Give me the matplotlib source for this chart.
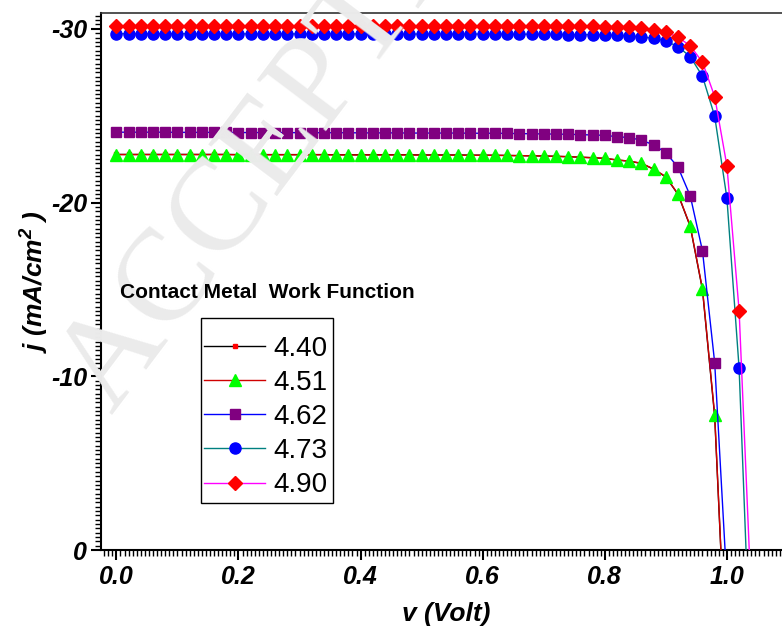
import matplotlib
matplotlib.use("Agg")
import matplotlib.pyplot as plt
from matplotlib.ticker import FixedLocator, MultipleLocator
from matplotlib.lines import Line2D
from matplotlib.patches import Rectangle

plt.rcParams['font.family'] = ['Liberation Sans', 'DejaVu Sans']
plt.rcParams['axes.unicode_minus'] = False
plt.rcParams['mathtext.fontset'] = 'custom'
plt.rcParams['mathtext.rm'] = 'Liberation Sans:bold:italic'
plt.rcParams['mathtext.it'] = 'Liberation Sans:bold:italic'
plt.rcParams['mathtext.bf'] = 'Liberation Sans:bold:italic'

# bias voltage (V), 0.02 V steps
volt = [0.00, 0.02, 0.04, 0.06, 0.08, 0.10, 0.12, 0.14, 0.16, 0.18,
        0.20, 0.22, 0.24, 0.26, 0.28, 0.30, 0.32, 0.34, 0.36, 0.38,
        0.40, 0.42, 0.44, 0.46, 0.48, 0.50, 0.52, 0.54, 0.56, 0.58,
        0.60, 0.62, 0.64, 0.66, 0.68, 0.70, 0.72, 0.74, 0.76, 0.78,
        0.80, 0.82, 0.84, 0.86, 0.88, 0.90, 0.92, 0.94, 0.96, 0.98,
        1.00, 1.02, 1.04]

# current density (mA/cm2) for each contact metal work function
j_440 = [-22.77, -22.77, -22.77, -22.77, -22.77, -22.77, -22.77, -22.77, -22.77, -22.77,
         -22.76, -22.76, -22.76, -22.76, -22.76, -22.76, -22.76, -22.76, -22.75, -22.75,
         -22.75, -22.75, -22.75, -22.75, -22.75, -22.74, -22.74, -22.74, -22.74, -22.73,
         -22.73, -22.72, -22.71, -22.70, -22.69, -22.68, -22.66, -22.64, -22.61, -22.58,
         -22.54, -22.45, -22.38, -22.25, -21.92, -21.47, -20.47, -18.62, -14.98, -7.70,
         7.60]
j_451 = [-22.76, -22.76, -22.76, -22.76, -22.76, -22.76, -22.76, -22.76, -22.76, -22.76,
         -22.75, -22.75, -22.75, -22.75, -22.75, -22.75, -22.75, -22.75, -22.74, -22.74,
         -22.74, -22.74, -22.74, -22.74, -22.74, -22.73, -22.73, -22.73, -22.73, -22.72,
         -22.72, -22.72, -22.71, -22.70, -22.69, -22.68, -22.66, -22.64, -22.61, -22.58,
         -22.55, -22.45, -22.39, -22.26, -21.93, -21.49, -20.49, -18.65, -15.03, -7.77,
         7.50]
j_462 = [-24.05, -24.05, -24.05, -24.05, -24.05, -24.04, -24.04, -24.04, -24.04, -24.04,
         -24.03, -24.03, -24.03, -24.03, -24.03, -24.02, -24.02, -24.02, -24.02, -24.02,
         -24.01, -24.01, -24.01, -24.01, -24.00, -24.00, -24.00, -24.00, -24.00, -23.99,
         -23.99, -23.99, -23.98, -23.97, -23.96, -23.95, -23.94, -23.93, -23.91, -23.89,
         -23.87, -23.79, -23.74, -23.59, -23.32, -22.87, -22.03, -20.38, -17.22, -10.78,
         1.90]
j_473 = [-29.72, -29.72, -29.72, -29.72, -29.72, -29.72, -29.72, -29.72, -29.72, -29.72,
         -29.71, -29.71, -29.71, -29.71, -29.71, -29.71, -29.71, -29.71, -29.71, -29.71,
         -29.71, -29.71, -29.70, -29.70, -29.70, -29.70, -29.70, -29.70, -29.70, -29.70,
         -29.70, -29.70, -29.69, -29.69, -29.69, -29.68, -29.68, -29.67, -29.67, -29.66,
         -29.65, -29.63, -29.59, -29.53, -29.46, -29.30, -28.97, -28.40, -27.27, -24.97,
         -20.26, -10.46, 8.00]
j_490 = [-30.17, -30.17, -30.17, -30.17, -30.17, -30.17, -30.17, -30.17, -30.17, -30.17,
         -30.17, -30.17, -30.17, -30.17, -30.17, -30.16, -30.16, -30.16, -30.16, -30.16,
         -30.16, -30.16, -30.16, -30.16, -30.16, -30.16, -30.16, -30.16, -30.15, -30.15,
         -30.15, -30.15, -30.15, -30.15, -30.15, -30.15, -30.14, -30.14, -30.14, -30.14,
         -30.13, -30.13, -30.10, -30.04, -29.94, -29.80, -29.52, -29.02, -28.08, -26.10,
         -22.12, -13.78, 2.80]

work_functions = ['4.40', '4.51', '4.62', '4.73', '4.90']

W, H = 782, 626
fig = plt.figure(figsize=(W / 100, H / 100), dpi=100)
ax = fig.add_axes([101 / W, 76 / H, 690 / W, 537.5 / H])

# faint diagonal stamp behind everything
fig.text(112 / W, 1 - 415 / H, 'ACCEPTED MANUSCRIPT', fontsize=95, family='Liberation Serif',
         color='#ebebeb', rotation=53, rotation_mode='anchor', ha='left', va='baseline',
         zorder=0)
ax.set_facecolor('none')

styles = [
    (j_440, 'black', 's', 'red', 3.5),
    (j_451, '#d00000', '^', '#00ff00', 8.5),
    (j_462, 'blue', 's', 'purple', 7),
    (j_473, 'teal', 'o', 'blue', 8),
    (j_490, 'magenta', 'D', 'red', 7.5),
]
handles = []
for (jv, lc, mk, mc, ms), lab in zip(styles, work_functions):
    ax.plot(volt[:len(jv)], jv, color=lc, lw=1.0, marker=mk, ms=ms,
            mfc=mc, mec=mc, zorder=3)
    handles.append(Line2D([], [], color=lc, lw=1.0, marker=mk, ms=ms, mfc=mc, mec=mc))

ax.set_xlim(-0.0252, 1.105)
ax.set_ylim(0, -30.94)

ax.xaxis.set_major_locator(FixedLocator([0.0, 0.2, 0.4, 0.6, 0.8, 1.0]))
ax.xaxis.set_minor_locator(MultipleLocator(0.2 / 30))
ax.yaxis.set_major_locator(FixedLocator([-30, -20, -10, 0]))
ax.yaxis.set_minor_locator(MultipleLocator(0.25))
ax.set_xticklabels(['0.0', '0.2', '0.4', '0.6', '0.8', '1.0'])
ax.set_yticklabels(['-30', '-20', '-10', '0'])

ax.tick_params(which='major', direction='out', length=7, width=1.5)
ax.tick_params(which='minor', direction='out', length=4, width=1.0)
ax.tick_params(axis='x', which='major', pad=4)
ax.tick_params(axis='y', which='major', pad=3)
for lbl in ax.get_xticklabels() + ax.get_yticklabels():
    lbl.set_fontsize(18)
    lbl.set_fontweight('bold')
    lbl.set_fontstyle('italic')

for side in ['left', 'bottom']:
    ax.spines[side].set_linewidth(1.5)
ax.spines['top'].set_linewidth(1.2)
ax.spines['top'].set_color('#333333')
ax.spines['right'].set_visible(False)

ax.set_xlabel('v (Volt)', fontsize=19, fontweight='bold', fontstyle='italic', labelpad=9)
ax.set_ylabel('j (mA/cm$^{2}$ )', fontsize=19, fontweight='bold', fontstyle='italic', labelpad=0)

fig.text(120 / W, 1 - 293 / H, 'Contact Metal  Work Function', fontsize=15,
         fontweight='bold', ha='left', va='center')

# legend box is taller than its entries, so the frame is drawn on its own
fig.patches.append(Rectangle((201 / W, 1 - 503 / H), 132 / W, 185 / H,
                             transform=fig.transFigure, fill=False,
                             edgecolor='black', lw=1.0, zorder=4))
leg = ax.legend(handles, work_functions, loc='upper left',
                bbox_to_anchor=(204 / W, 1 - 336 / H), bbox_transform=fig.transFigure,
                fontsize=20, frameon=False, borderpad=0, borderaxespad=0,
                handlelength=2.2, handletextpad=0.3, labelspacing=0.29)

fig.savefig('out.png', dpi=100)
